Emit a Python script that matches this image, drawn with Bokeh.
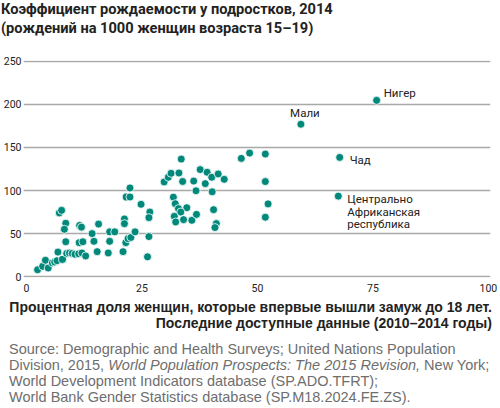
from bokeh.plotting import figure
from bokeh.models import Range1d, Label, FixedTicker, Div
from bokeh.layouts import column
from bokeh.embed import file_html
from bokeh.resources import INLINE

# --- data ---
marriage_pct = [
    2.4, 3.5, 4.7, 4.1, 5.6, 6.1, 6.6, 7.8, 6.8, 8.7, 9.3, 9.9, 10.5, 11.3, 12.0, 12.8,
    7.1, 7.6, 8.5, 8.2, 8.5, 11.5, 11.9, 11.4, 12.2, 14.2, 14.6, 15.6, 15.3, 17.7,
    18.0, 18.0, 19.1, 20.9, 21.2, 21.2, 21.5, 22.0, 22.6, 23.5, 21.6, 22.4, 22.4,
    24.8, 26.7, 26.5, 26.5, 26.2,
    29.8, 30.7, 31.3, 33.0, 33.5, 33.8, 36.2, 37.6, 39.1, 40.1, 41.5, 42.8, 38.7,
    36.7, 40.2, 31.8, 32.2, 32.9, 34.7, 33.4, 32.0, 32.3, 34.0, 35.8, 36.8, 40.5,
    41.1, 40.8,
    46.5, 48.3, 51.7, 51.7, 52.3, 51.7,
]
birth_rate = [
    8, 12, 10, 19, 16, 17, 18.5, 20, 28.5, 27, 27.5, 27, 26, 26.5, 27.5, 24,
    74, 77, 62, 55, 40.5, 59.5, 57.5, 39.5, 40.5, 50, 41, 61, 29, 27.5,
    41, 52, 52, 29, 67, 61.5, 39.5, 44.3, 45.5, 52, 92.5, 92.5, 103,
    84, 75, 68.5, 46.5, 23,
    110, 115.4, 120, 120.4, 136.5, 110.5, 111, 124.3, 121.2, 115.4, 119.3, 113, 108,
    99.7, 98.5, 92.3, 84.7, 79, 80, 75, 70, 63.5, 66.2, 65.4, 72.3, 77.8,
    61.6, 57,
    137.3, 143.5, 142.4, 110.4, 84.5, 69,
]
labeled_names = ["Нигер", "Мали", "Чад", "Центрально\nАфриканская\nреспублика"]
labeled_x = [75.8, 59.4, 67.8, 67.5]
labeled_y = [204.7, 177, 138.5, 93.5]

x_ticks = [0, 25, 50, 75, 100]
y_ticks = [0, 50, 100, 150, 200, 250]

title_lines = ["Коэффициент рождаемости у подростков, 2014",
               "(рождений на 1000 женщин возраста 15–19)"]
xaxis_lines = ["Процентная доля женщин, которые впервые вышли замуж до 18 лет.",
               "Последние доступные данные (2010–2014 годы)"]
source_lines = ["Source: Demographic and Health Surveys; United Nations Population",
                "Division, 2015, <i>World Population Prospects: The 2015 Revision,</i> New York;",
                "World Development Indicators database (SP.ADO.TFRT);",
                "World Bank Gender Statistics database (SP.M18.2024.FE.ZS)."]

NARROW = "Roboto"
TEAL = "#00897b"

# chart title
head = Div(text="<div style=\"font-family:Roboto;font-size:14.6px;font-weight:bold;"
                "color:#222222;line-height:19px;white-space:nowrap;padding-left:1px\">"
                + "<br>".join(title_lines) + "</div>",
           width=500, height=40, margin=(0, 0, 0, 0))

p = figure(width=500, height=260, output_backend="svg", toolbar_location=None,
           x_range=Range1d(-0.65, 100.45), y_range=Range1d(-1.0, 251.0),
           min_border_left=20, min_border_right=10, min_border_top=20,
           min_border_bottom=23)
p.outline_line_color = None
p.background_fill_color = "white"
p.border_fill_color = "white"

p.xgrid.grid_line_color = None
p.ygrid.grid_line_color = "#a9a9a9"
p.ygrid.grid_line_width = 1.5

for ax in (p.xaxis, p.yaxis):
    ax.axis_line_color = None
    ax.major_tick_line_color = None
    ax.minor_tick_line_color = None
    ax.major_label_text_font = NARROW
    ax.major_label_text_font_size = "10.5px"
    ax.major_label_text_color = "#222222"
    ax.major_tick_out = 0
    ax.major_tick_in = 0
p.xaxis.ticker = FixedTicker(ticks=x_ticks)
p.yaxis.ticker = FixedTicker(ticks=y_ticks)
p.ygrid.ticker = FixedTicker(ticks=y_ticks)
p.xaxis.major_label_standoff = 6
p.yaxis.major_label_standoff = 2

p.scatter(marriage_pct, birth_rate, size=8, fill_color=TEAL, line_color="white",
          line_width=0.8)
p.scatter(labeled_x, labeled_y, size=8, fill_color=TEAL, line_color="white",
          line_width=0.8)

# country labels
lab_style = dict(text_font=NARROW, text_font_size="11.5px", text_color="#222222",
                 text_baseline="middle")
p.add_layout(Label(x=labeled_x[0], y=labeled_y[0], text=labeled_names[0],
                   x_offset=7, y_offset=7, text_align="left", **lab_style))
p.add_layout(Label(x=labeled_x[1], y=labeled_y[1], text=labeled_names[1],
                   x_offset=4, y_offset=11, text_align="center", **lab_style))
p.add_layout(Label(x=labeled_x[2], y=labeled_y[2], text=labeled_names[2],
                   x_offset=10, y_offset=-3, text_align="left", **lab_style))
for i, line in enumerate(labeled_names[3].split("\n")):
    p.add_layout(Label(x=labeled_x[3], y=labeled_y[3], text=line,
                       x_offset=9, y_offset=-3 - 12.5 * i, text_align="left",
                       **lab_style))

# x-axis title and source note below the chart
html = (
    "<div style=\"font-family:'Liberation Sans';font-size:14px;font-weight:bold;"
    "color:#222222;line-height:15.5px;text-align:right;white-space:nowrap;"
    "width:492px\">" + "<br>".join(xaxis_lines) + "</div>"
    "<div style=\"font-family:'Liberation Sans';font-size:14.5px;color:#6e6e6e;"
    "line-height:16px;white-space:nowrap;margin-top:10px;padding-left:9px;"
    "width:483px\">"
    + "<br>".join(source_lines) + "</div>"
)
notes = Div(text=html, width=500, height=105, margin=(0, 0, 0, 0))

layout = column(head, p, notes, spacing=0)
open("out.html", "w").write(file_html(layout, INLINE))
